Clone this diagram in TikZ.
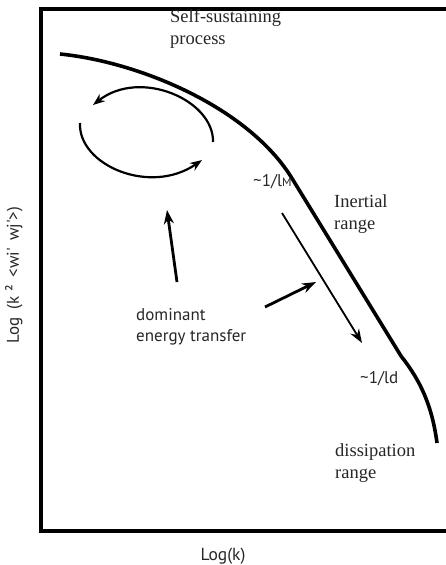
\documentclass[tikz,border=0pt]{standalone}
\usepackage{fontspec}
\setmainfont{Liberation Serif}
\newfontfamily\lblsans{PT Sans}
\usetikzlibrary{arrows.meta}
\tikzset{
  frame/.style={line width=4pt, line cap=rect},
  spectrum/.style={line width=3.6pt},
  loop/.style={line width=2.2pt, -{Stealth[length=12pt,width=9pt]}},
  energyarrow/.style={line width=2.8pt, -{Stealth[length=14pt,width=10pt]}},
  thinarrow/.style={line width=1.8pt, -{Stealth[length=14pt,width=10pt]}},
  serif/.style={font=\fontsize{18.5}{21.5}\selectfont, text=black!85, align=left, anchor=base west, inner sep=0pt},
  sans/.style={font=\lblsans\fontsize{17}{21}\selectfont, text=black!85, align=left, inner sep=0pt},
}
\begin{document}
\begin{tikzpicture}[x=1pt,y=-1pt]
\useasboundingbox (0,0) rectangle (445,565);
% frame
\coordinate (tr) at (447,9);
\coordinate (tl) at (41,9);
\coordinate (bl) at (41,531);
\coordinate (br) at (447,531);
\draw[frame] (tr) -- (tl) -- (bl) -- (br);
% spectrum curve
\coordinate (c0) at (60,54);
\coordinate (cM) at (293,180);
\coordinate (cd) at (401,356);
\coordinate (cend) at (437,443);
\draw[spectrum] (c0) .. controls (140,62) and (250,108) .. (cM)
  -- (cd) .. controls (420,380) and (432,405) .. (cend);
% self-sustaining loop
\coordinate (u0) at (213,142);
\coordinate (u1) at (93,105);
\coordinate (l0) at (80,123);
\coordinate (l1) at (202,160);
\draw[loop] (u0) .. controls (214,100) and (140,68) .. (u1);
\draw[loop] (l0) .. controls (78,165) and (150,196) .. (l1);
% arrows
\coordinate (a0) at (177,282);
\coordinate (a1) at (167,210);
\draw[energyarrow] (a0) -- (a1);
\coordinate (b0) at (265,307);
\coordinate (b1) at (316,282);
\draw[energyarrow] (b0) -- (b1);
\coordinate (d0) at (282,213);
\coordinate (d1) at (362,343);
\draw[thinarrow] (d0) -- (d1);
% labels (base = baseline of last line)
\node[serif] (ssp) at (170,44) {Self-sustaining\\process};
\node[serif] (inr) at (334,229) {Inertial\\range};
\node[serif] (dis) at (335,478) {dissipation\\range};
\node[sans, anchor=base west] (lM) at (253,186) {\textasciitilde 1/l{\fontsize{12}{12}\selectfont M}};
\node[sans, anchor=base west] (ld) at (360,383) {\textasciitilde 1/ld};
\node[sans, anchor=base west] (det) at (136,341) {dominant\\energy transfer};
\node[font=\lblsans\fontsize{17.5}{18}\selectfont, text=black!85, inner sep=0pt, anchor=base] (xl) at (223,560) {Log(k)};
\node[font=\lblsans\fontsize{17}{18}\selectfont, text=black!85, inner sep=0pt, rotate=90, anchor=base] (yl) at (19,275) {Log\hspace{0.45em}(k\hspace{0.3em}²\hspace{0.45em}<wi\textquotesingle{}\hspace{0.4em}wj\textquotesingle{}>)};
\end{tikzpicture}
\end{document}
